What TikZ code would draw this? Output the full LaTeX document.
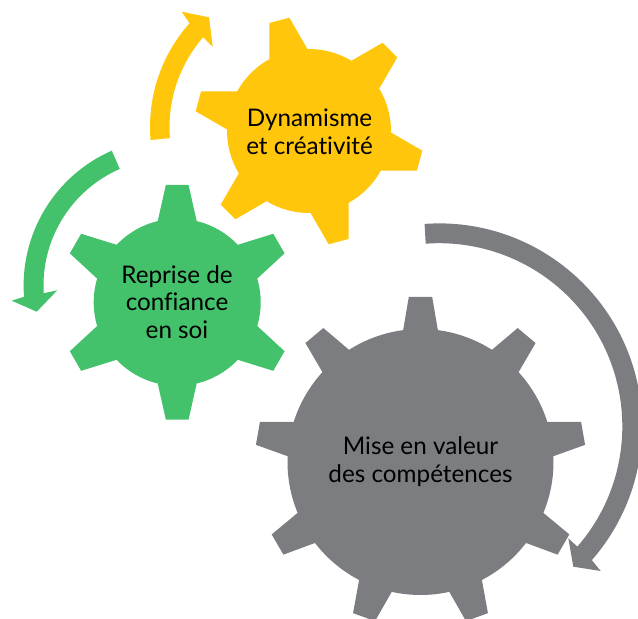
\documentclass[tikz,border=0pt]{standalone}
\usepackage{fontspec}
\setmainfont{Lato}[Ligatures=NoCommon]
\usepackage{xcolor}
\definecolor{gearyellow}{HTML}{FFC60B}
\definecolor{geargreen}{HTML}{43C26B}
\definecolor{geargrey}{HTML}{7C7D81}
\tikzset{gearlabel/.style={align=center,text=black,font=\fontsize{13.8}{15.8}\selectfont,inner sep=0pt}}

\begin{document}
\begin{tikzpicture}[x=0.02cm,y=0.02cm]
	\useasboundingbox (0,0) rectangle (638,618);
	\clip (0,0) rectangle (638,618);
	\coordinate (yellowarc) at (306,491);
	\coordinate (greenarc) at (170.7,332.5);
	\coordinate (greyarc) at (439.1,191.6);
	%engrenages
	\fill[gearyellow,shift={(309,487)}] (31.1:82) foreach \a in {45,105,...,345}
		{-- (\a-13.9:82) -- (\a-5.15:115) -- (\a+5.15:115) -- (\a+13.9:82) arc (\a+13.9:\a+46.1:82)} -- cycle;
	\fill[geargreen,shift={(177.2,315.7)}] (16.5:83.5) foreach \a in {30,90,...,330}
		{-- (\a-13.5:83.5) -- (\a-5.5:118) -- (\a+5.5:118) -- (\a+13.5:83.5) arc (\a+13.5:\a+46.5:83.5)} -- cycle;
	\fill[geargrey,shift={(420.5,156)}] (2.5:133) foreach \a in {10,50,...,370}
		{-- (\a-7.5:133) -- (\a-4.05:165.5) -- (\a+4.05:165.5) -- (\a+7.5:133) arc (\a+7.5:\a+32.5:133)} -- cycle;
	%fleches
	\fill[gearyellow] ([shift={(yellowarc)}]184.8:156) arc (184.8:138.3:156) -- (181.7,606.3) -- (209,600.7) -- (212.7,571.3)
		-- ([shift={(yellowarc)}]138.9:136.5) arc (138.9:184.7:136.5) -- cycle;
	\fill[geargreen] ([shift={(greenarc)}]113.6:147.1) arc (113.6:184.4:147.1) -- (11.7,317.3) -- (36.7,306.3) -- (57.3,327.7)
		-- ([shift={(greenarc)}]183.5:127.2) arc (183.5:113.6:127.2) -- cycle;
	\fill[geargrey] ([shift={(greyarc)}]94.1:203) arc (94.1:-41.2:203) -- (600.7,47) -- (573.3,51.3) -- (568.3,79.7)
		-- ([shift={(greyarc)}]-41:183.2) arc (-41:94.2:183.2) -- cycle;
	%textes
	\node[gearlabel] (dynamisme) at (309.5,486) {Dynamisme\\et créativité};
	\node[gearlabel] (reprise) at (177,316) {Reprise de\\confiance\\en soi};
	\node[gearlabel] (mise) at (420.5,156) {Mise en valeur\\des compétences};
\end{tikzpicture}
\end{document}
